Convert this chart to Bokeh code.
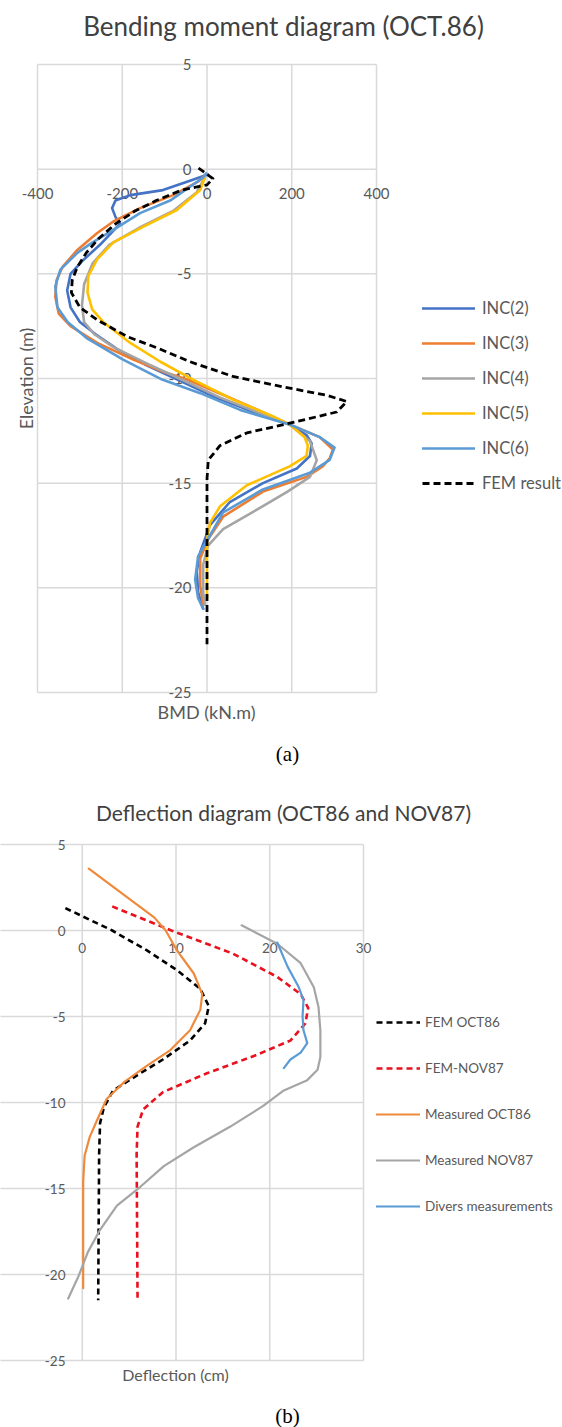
from bokeh.plotting import figure
from bokeh.models import Range1d, Label, Legend, LegendItem, ColumnDataSource
from bokeh.layouts import column
from bokeh.core.properties import value
from bokeh.embed import file_html
from bokeh.resources import INLINE

FONT = "Lato"
GRID_COLOR = "#d9d9d9"
TEXT_COLOR = "#595959"
TITLE_COLOR = "#404040"

# ---------------- (a) Bending moment diagram, OCT.86 ----------------
bmd_ticks = [-400, -200, 0, 200, 400]
elev_ticks_a = [5, 0, -5, -10, -15, -20, -25]

inc2_bmd = [2, -47, -104, -181, -216, -224, -216, -205, -252, -295, -322, -330, -322, -300, -262,
            -212, -140, -70, 20, 110, 195, 235, 247, 243, 212, 132, 54, 7, -16, -24, -21, -9]
inc2_elev = [-0.25, -0.6, -1.0, -1.24, -1.5, -1.86, -2.28, -2.6, -3.6, -4.4, -5.0, -5.8, -6.6, -7.3, -7.9,
             -8.6, -9.4, -10.05, -10.9, -11.6, -12.2, -12.7, -13.1, -13.7, -14.3, -15.0, -15.9, -17.0,
             -18.3, -19.2, -20.2, -21.0]

inc3_bmd = [-5, -21, -80, -158, -221, -259, -306, -341, -355, -358, -350, -322, -259, -174, -100, -47,
            40, 120, 195, 266, 297, 290, 273, 235, 132, 38, 2, -16, -16, -9]
inc3_elev = [-0.3, -0.6, -1.24, -1.86, -2.5, -3.05, -3.86, -4.67, -5.3, -6.1, -6.9, -7.5, -8.3, -9.1,
             -9.7, -10.05, -10.8, -11.5, -12.2, -12.8, -13.4, -13.8, -14.2, -14.7, -15.4, -16.6, -17.7,
             -18.6, -19.9, -20.8]

inc4_bmd = [-5, -24, -80, -160, -230, -270, -290, -295, -290, -265, -221, -140, -60, 30, 118, 195, 243,
            259, 243, 190, 132, 38, 2, -9, -9, -5]
inc4_elev = [-0.4, -1.1, -2.0, -2.8, -3.6, -4.5, -5.5, -6.5, -7.3, -7.9, -8.5, -9.3, -10.05, -10.9, -11.6,
             -12.2, -13.0, -13.9, -14.7, -15.4, -16.1, -17.2, -18.0, -18.9, -20.2, -20.8]

inc5_bmd = [-5, -16, -71, -151, -221, -259, -280, -282, -271, -245, -181, -110, -33, 61, 155, 195, 230,
            238, 235, 195, 94, 31, 7, 0, 0]
inc5_elev = [-0.4, -1.0, -1.95, -2.76, -3.5, -4.3, -5.1, -5.9, -6.7, -7.3, -8.3, -9.2, -10.05, -11.0,
             -11.8, -12.2, -12.8, -13.2, -13.7, -14.2, -15.1, -16.1, -16.9, -17.7, -20.5]

inc6_bmd = [-2, -9, -87, -158, -221, -270, -306, -346, -358, -353, -329, -282, -198, -106, -16, 78, 195,
            266, 301, 289, 243, 132, 38, 7, -21, -28, -21, -9]
inc6_elev = [-0.2, -0.4, -1.5, -2.1, -2.9, -3.5, -4.0, -4.8, -5.6, -6.6, -7.3, -8.1, -9.1, -10.05, -10.7,
             -11.5, -12.2, -12.8, -13.3, -13.9, -14.5, -15.3, -16.4, -17.5, -18.5, -19.6, -20.5, -21.0]

fem_bmd = [-20, 14, 0, -60, -120, -170, -215, -255, -285, -306, -318, -320, -300, -259, -188, -110, -40,
           61, 179, 282, 330, 306, 203, 94, 31, 3, 0, 0]
fem_elev = [0.05, -0.45, -0.75, -1.0, -1.5, -2.0, -2.6, -3.3, -4.0, -4.67, -5.3, -5.9, -6.6, -7.2, -8.0,
            -8.6, -9.2, -9.9, -10.4, -10.8, -11.1, -11.6, -12.1, -12.6, -13.2, -13.9, -14.8, -22.7]

# ---------------- (b) Deflection diagram, OCT86 and NOV87 ----------------
defl_ticks = [-10, 0, 10, 20, 30]
elev_ticks_b = [5, 0, -5, -10, -15, -20, -25]

fem_oct86_defl = [-1.8, 3.2, 6.9, 10.1, 12.6, 13.5, 13.1, 11.5, 8.6, 6.2, 3.3, 2.3, 1.9, 1.8, 1.7]
fem_oct86_elev = [1.3, 0.0, -1.16, -2.3, -3.4, -4.4, -5.4, -6.4, -7.5, -8.3, -9.3, -10.3, -11.2, -13.0, -21.5]

fem_nov87_defl = [3.2, 9.5, 16.1, 20.8, 23.3, 24.1, 23.8, 22.2, 18.3, 13.3, 8.6, 6.5, 5.9, 5.8, 5.9]
fem_nov87_elev = [1.4, 0.0, -1.35, -2.7, -3.7, -4.5, -5.4, -6.4, -7.3, -8.3, -9.4, -10.4, -11.4, -13.0, -21.5]

meas_oct86_defl = [0.7, 7.7, 8.9, 10.1, 11.9, 12.8, 12.6, 11.5, 9.4, 6.8, 4.5, 2.6, 1.6, 0.8, 0.25, 0.1, 0.1]
meas_oct86_elev = [3.6, 0.75, 0.0, -1.16, -2.5, -3.7, -4.6, -5.8, -6.95, -7.9, -8.8, -9.8, -11.0, -12.0,
                   -13.1, -14.6, -20.8]

meas_nov87_defl = [17.0, 20.8, 23.3, 24.7, 25.2, 25.4, 25.4, 25.1, 24.0, 21.5, 19.3, 15.8, 11.9, 8.7, 6.2,
                   3.7, 1.9, 0.6, -0.4, -1.5]
meas_nov87_elev = [0.3, -0.77, -1.9, -3.3, -4.45, -5.8, -7.35, -8.1, -8.7, -9.3, -10.2, -11.4, -12.6, -13.7,
                   -14.9, -16.0, -17.4, -18.7, -20.1, -21.4]

divers_defl = [20.8, 21.9, 23.1, 23.6, 23.5, 23.6, 24.0, 23.3, 22.2, 21.5]
divers_elev = [-0.7, -2.1, -3.3, -4.05, -5.0, -5.8, -6.55, -7.1, -7.5, -8.0]


def make_panel(width, height, box, x_lim, y_lim):
    """Figure whose frame fills the canvas; `box` = (left, top, right, bottom) pixels of the
    plotting area, mapped onto x_lim = (xmin, xmax) and y_lim = (ymax, ymin)."""
    left, top, right, bottom = box
    x0, x1 = x_lim
    y_hi, y_lo = y_lim
    ux = (x1 - x0) / (right - left)
    uy = (y_hi - y_lo) / (bottom - top)
    xr = Range1d(x0 - left * ux, x0 + (width - left) * ux)
    yr = Range1d(y_lo - (height - bottom) * uy, y_hi + top * uy)
    p = figure(width=width, height=height, x_range=xr, y_range=yr,
               x_axis_location=None, y_axis_location=None,
               output_backend="svg", toolbar_location=None,
               min_border=0, min_border_left=0, min_border_right=0,
               min_border_top=0, min_border_bottom=0,
               outline_line_color=None, background_fill_color="white",
               border_fill_color="white")
    # the default full-width grids are replaced by bounded gridlines below
    p.grid.visible = False
    to_x = lambda px: x0 + (px - left) * ux
    to_y = lambda py: y_hi - (py - top) * uy
    return p, to_x, to_y


def add_grid(p, x_ticks, y_ticks):
    """Gridlines limited to the plotting area (vertical at x ticks, horizontal at y ticks)."""
    ylo, yhi = min(y_ticks), max(y_ticks)
    xlo, xhi = min(x_ticks), max(x_ticks)
    p.segment(x0=x_ticks, x1=x_ticks, y0=[ylo] * len(x_ticks), y1=[yhi] * len(x_ticks),
              line_color=GRID_COLOR, line_width=1.5, level="underlay")
    p.segment(x0=[xlo] * len(y_ticks), x1=[xhi] * len(y_ticks), y0=y_ticks, y1=y_ticks,
              line_color=GRID_COLOR, line_width=1.5, level="underlay")


def add_tick_labels(p, x_ticks, y_ticks, x_label_y, y_label_x, size):
    x_vis = [v for v in x_ticks if v >= p.x_range.start]
    xs = ColumnDataSource(dict(x=x_vis, y=[x_label_y] * len(x_vis), t=[str(v) for v in x_vis]))
    ys = ColumnDataSource(dict(x=[y_label_x] * len(y_ticks), y=y_ticks, t=[str(v) for v in y_ticks]))
    p.text(x="x", y="y", text="t", source=xs, text_font=value(FONT), text_font_size=value(size),
           text_color=TEXT_COLOR, text_align="center", text_baseline="middle")
    p.text(x="x", y="y", text="t", source=ys, text_font=value(FONT), text_font_size=value(size),
           text_color=TEXT_COLOR, text_align="right", text_baseline="middle")


# ----- panel (a) -----
WA, HA = 562, 770
pa, ax, ay = make_panel(WA, HA, (37, 64, 376, 692), (-400, 400), (5, -25))
add_grid(pa, bmd_ticks, elev_ticks_a)
add_tick_labels(pa, bmd_ticks, elev_ticks_a, ay(193), ax(191), "15px")

series_a = [
    ("INC(2)", inc2_bmd, inc2_elev, "#4472c4", None),
    ("INC(3)", inc3_bmd, inc3_elev, "#ed7d31", None),
    ("INC(4)", inc4_bmd, inc4_elev, "#a5a5a5", None),
    ("INC(5)", inc5_bmd, inc5_elev, "#ffc000", None),
    ("INC(6)", inc6_bmd, inc6_elev, "#5b9bd5", None),
    ("FEM result", fem_bmd, fem_elev, "#000000", "7 4"),
]
items_a = []
for name, xs_, ys_, color, dash in series_a:
    kw = dict(line_color=color, line_width=2.6, line_join="round", line_cap="round")
    if dash:
        kw.update(line_dash=dash, line_cap="butt", line_width=2.8)
    r = pa.line(xs_, ys_, **kw)
    items_a.append(LegendItem(label=name, renderers=[r]))

leg_a = Legend(items=items_a, location=(422, HA - 298 - (6 * 20 + 5 * 15)),
               glyph_width=53, glyph_height=20, label_height=20, label_standoff=7, spacing=15,
               padding=0, margin=0, border_line_alpha=0, background_fill_alpha=0,
               label_text_font=FONT, label_text_font_size="16.5px", label_text_color=TEXT_COLOR)
pa.add_layout(leg_a)

pa.add_layout(Label(x=ax(283), y=ay(25), text="Bending moment diagram (OCT.86)",
                    text_font=FONT, text_font_size="26px", text_color=TITLE_COLOR,
                    text_align="center", text_baseline="middle"))
pa.add_layout(Label(x=ax(25), y=ay(378), text="Elevation (m)", angle=90, angle_units="deg",
                    text_font=FONT, text_font_size="18px", text_color=TEXT_COLOR,
                    text_align="center", text_baseline="middle"))
pa.add_layout(Label(x=ax(206), y=ay(711), text="BMD (kN.m)",
                    text_font=FONT, text_font_size="18px", text_color=TEXT_COLOR,
                    text_align="center", text_baseline="middle"))
pa.add_layout(Label(x=ax(287), y=ay(753), text="(a)",
                    text_font="Liberation Serif", text_font_size="21px", text_color="#000000",
                    text_align="center", text_baseline="middle"))

# ----- panel (b) -----
WB, HB = 562, 657
pb, bx, by = make_panel(WB, HB, (-12, 74, 363, 590), (-10, 30), (5, -25))
add_grid(pb, defl_ticks, elev_ticks_b)
add_tick_labels(pb, defl_ticks, elev_ticks_b, by(177), bx(65), "13.5px")

series_b = [
    ("FEM OCT86", fem_oct86_defl, fem_oct86_elev, "#000000", "6 4"),
    ("FEM-NOV87", fem_nov87_defl, fem_nov87_elev, "#e8111d", "6 4"),
    ("Measured OCT86", meas_oct86_defl, meas_oct86_elev, "#ef8a3c", None),
    ("Measured NOV87", meas_nov87_defl, meas_nov87_elev, "#a5a5a5", None),
    ("Divers measurements", divers_defl, divers_elev, "#5b9bd5", None),
]
items_b = []
for name, xs_, ys_, color, dash in series_b:
    kw = dict(line_color=color, line_width=2.2, line_join="round", line_cap="round")
    if dash:
        kw.update(line_dash=dash, line_cap="butt", line_width=2.6)
    r = pb.line(xs_, ys_, **kw)
    items_b.append(LegendItem(label=name, renderers=[r]))

leg_b = Legend(items=items_b, location=(376, HB - 242 - (5 * 20 + 4 * 26)),
               glyph_width=44, glyph_height=20, label_height=20, label_standoff=5, spacing=26,
               padding=0, margin=0, border_line_alpha=0, background_fill_alpha=0,
               label_text_font=FONT, label_text_font_size="13.5px", label_text_color=TEXT_COLOR)
pb.add_layout(leg_b)

pb.add_layout(Label(x=bx(283), y=by(42), text="Deflection diagram (OCT86 and NOV87)",
                    text_font=FONT, text_font_size="21px", text_color=TITLE_COLOR,
                    text_align="center", text_baseline="middle"))
pb.add_layout(Label(x=bx(175), y=by(604), text="Deflection (cm)",
                    text_font=FONT, text_font_size="16px", text_color=TEXT_COLOR,
                    text_align="center", text_baseline="middle"))
pb.add_layout(Label(x=bx(287), y=by(645), text="(b)",
                    text_font="Liberation Serif", text_font_size="21px", text_color="#000000",
                    text_align="center", text_baseline="middle"))

layout = column(pa, pb, spacing=0)
open("out.html", "w").write(file_html(layout, INLINE))
